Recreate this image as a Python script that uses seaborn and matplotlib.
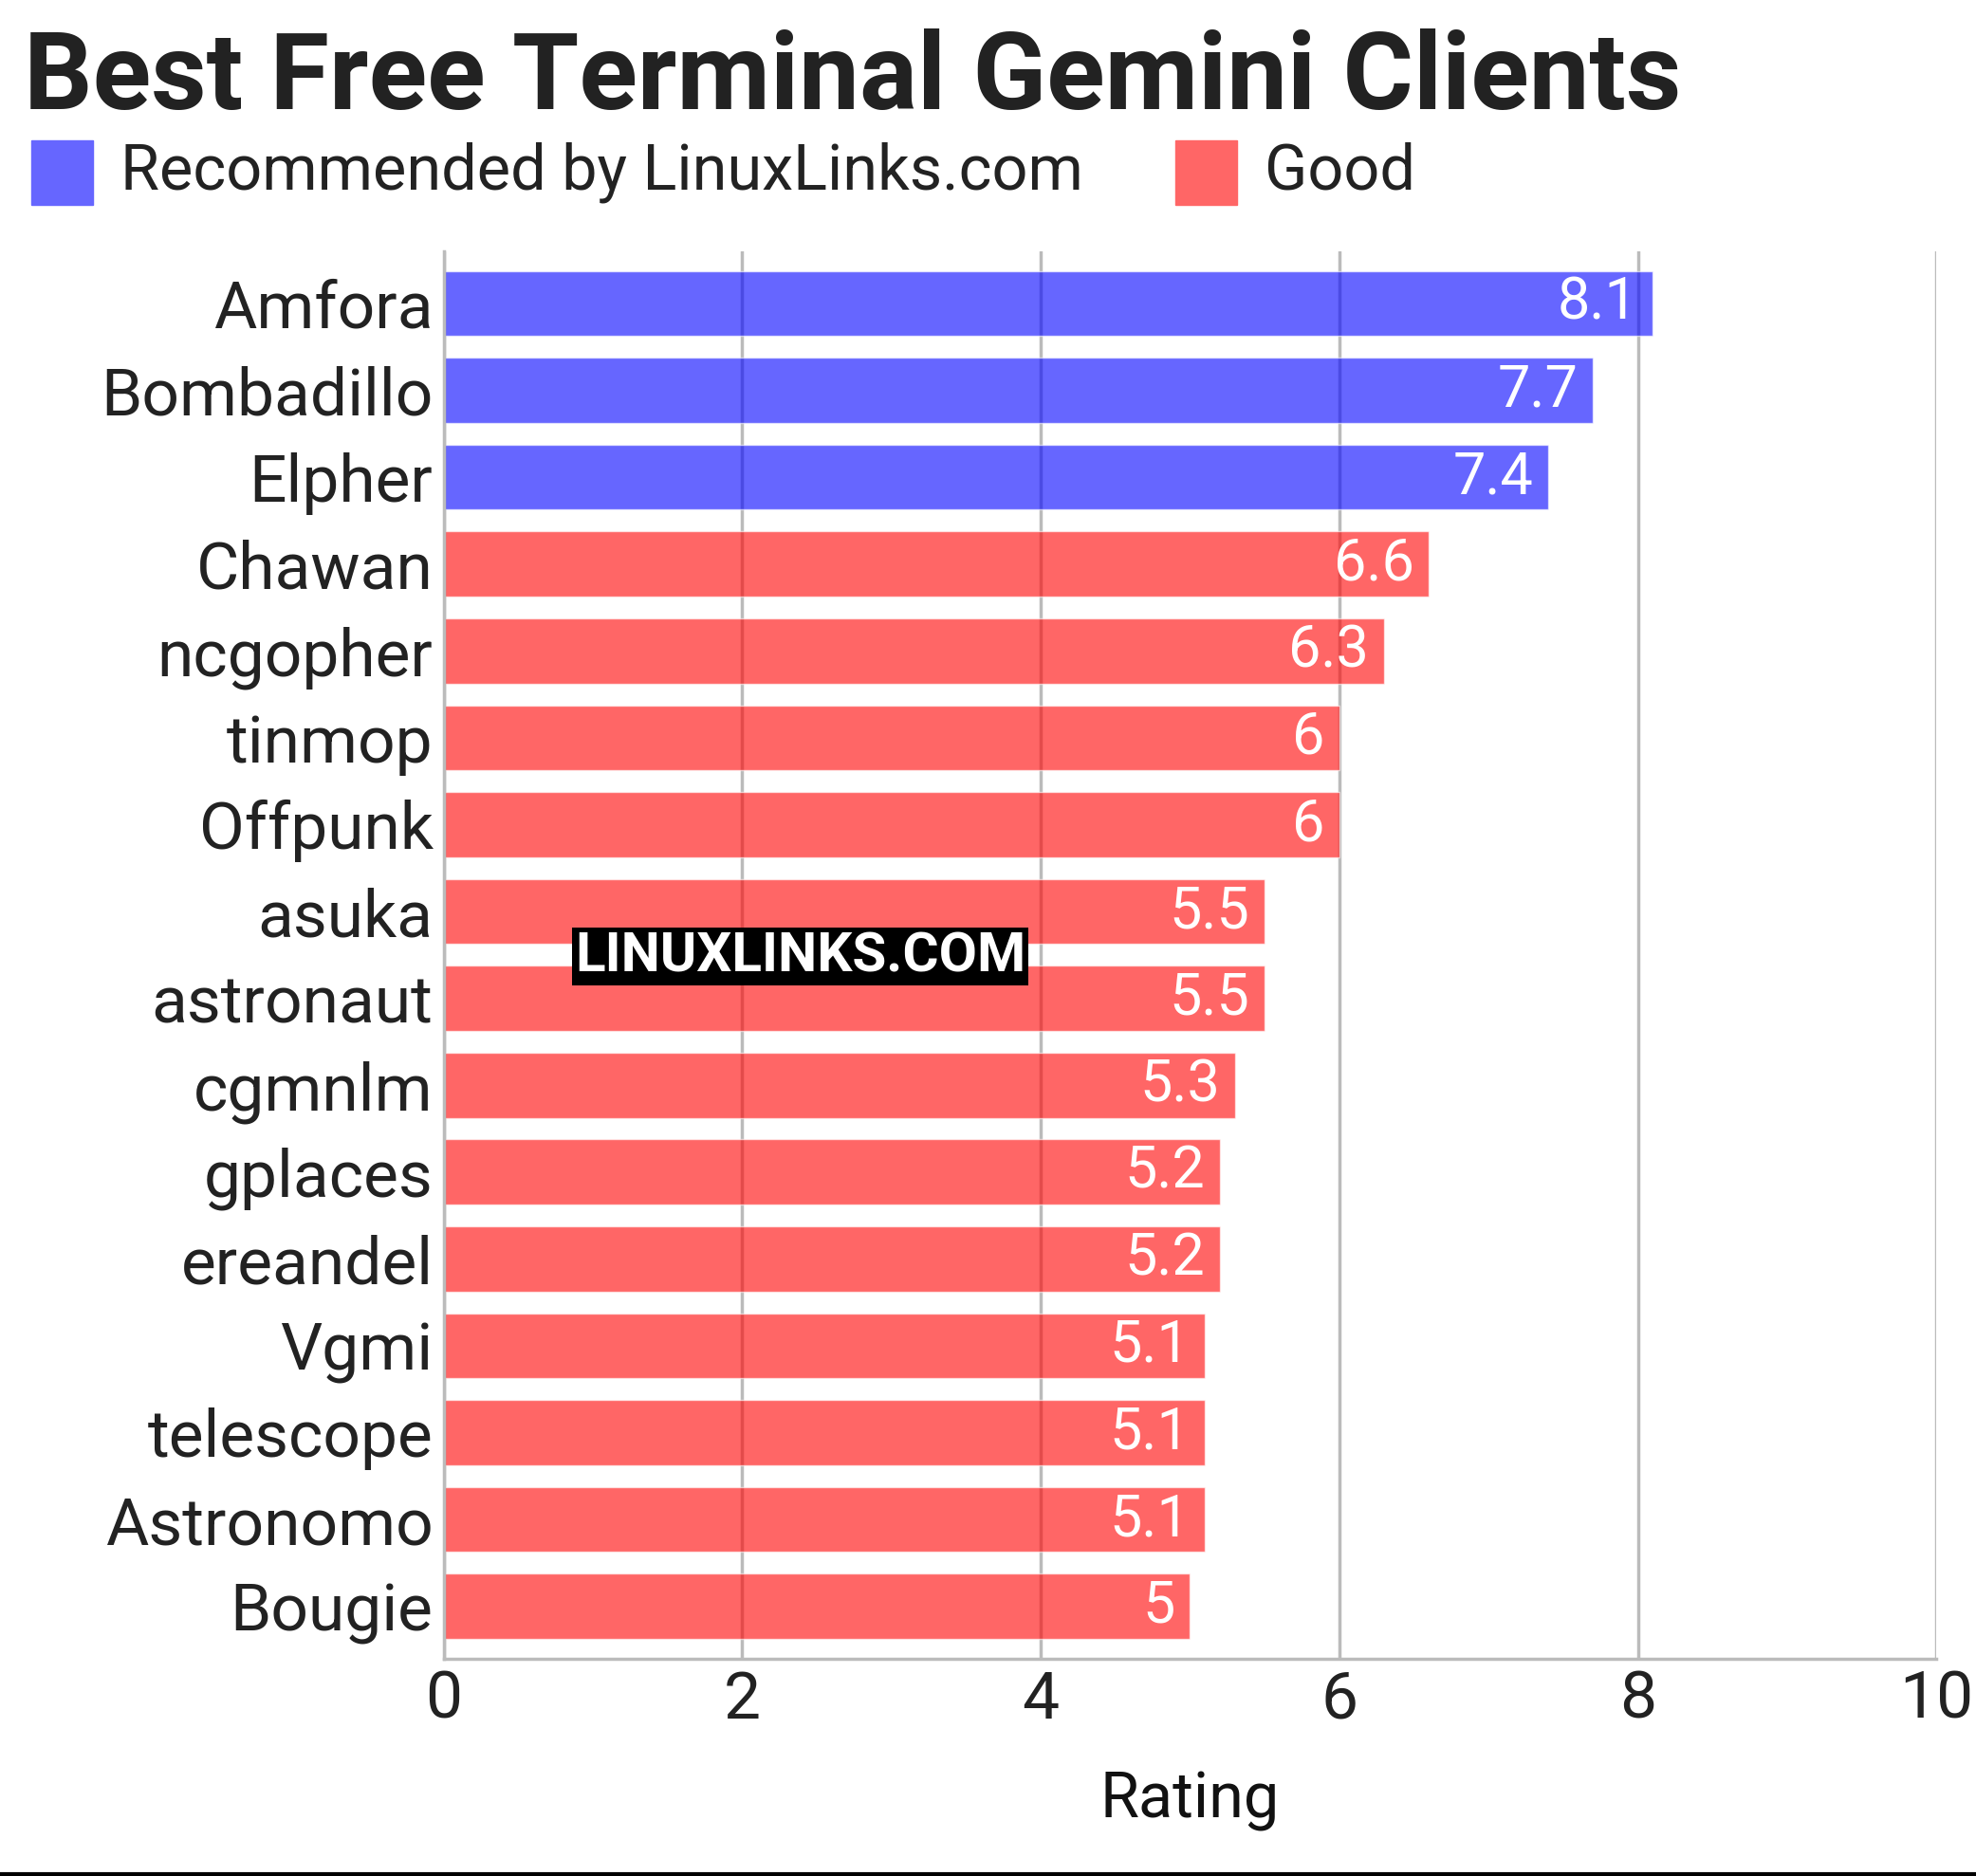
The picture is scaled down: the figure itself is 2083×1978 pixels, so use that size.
import matplotlib
matplotlib.use("Agg")
import matplotlib.pyplot as plt
import seaborn as sns
import pandas as pd

names = ["Amfora","Bombadillo","Elpher","Chawan","ncgopher","tinmop","Offpunk","asuka",
         "astronaut","cgmnlm","gplaces","ereandel","Vgmi","telescope","Astronomo","Bougie"]
ratings = [8.1,7.7,7.4,6.6,6.3,6.0,6.0,5.5,5.5,5.3,5.2,5.2,5.1,5.1,5.1,5.0]
groups = ["Recommended by LinuxLinks.com"]*3 + ["Good"]*13
labels = ["8.1","7.7","7.4","6.6","6.3","6","6","5.5","5.5","5.3","5.2","5.2","5.1","5.1","5.1","5"]
palette = {"Recommended by LinuxLinks.com": "#0000ff", "Good": "#ff0000"}

df = pd.DataFrame({"name": names, "rating": ratings, "group": groups})

sns.set_theme(style="white")
plt.rcParams['font.family'] = ['Roboto', 'DejaVu Sans']

fig = plt.figure(figsize=(20.83, 19.78), dpi=100)
ax = fig.add_axes([0.2245, 0.116, 0.7555, 0.75])
ax.set_axisbelow(True)
ax.grid(axis="x", color="#bbbbbb", linewidth=2.5)
sns.barplot(data=df, x="rating", y="name", hue="group", palette=palette, dodge=False,
            width=0.75, alpha=0.6, saturation=1, ax=ax, legend=False)
for i, (r, l) in enumerate(zip(ratings, labels)):
    ax.text(r - 0.1, i, l, ha="right", va="center", color="white", fontsize=44)
ax.set_xlim(0, 10)
ax.set_ylim(15.6, -0.6)
ax.set_xticks([0, 2, 4, 6, 8, 10])
ax.tick_params(axis="both", labelsize=50, colors="#222222", length=0, pad=8)
ax.set_ylabel("")
ax.set_xlabel("Rating", fontsize=48, color="#111111", labelpad=30)
for s in ["top", "right"]:
    ax.spines[s].set_visible(False)
for s in ["left", "bottom"]:
    ax.spines[s].set_color("#bbbbbb")
    ax.spines[s].set_linewidth(2.5)

fig.text(0.012, 0.985, "Best Free Terminal Gemini Clients", fontsize=82, fontweight="bold",
         color="#222222", va="top")
from matplotlib.patches import Rectangle
for x0, lab, c in [(0.016, "Recommended by LinuxLinks.com", "#6666ff"), (0.595, "Good", "#ff6666")]:
    fig.patches.append(Rectangle((x0, 0.891), 0.031, 0.034, transform=fig.transFigure,
                                 color=c, figure=fig))
    fig.text(x0 + 0.045, 0.908, lab, fontsize=48, color="#222222", va="center")
fig.text(0.405, 0.49, "LINUXLINKS.COM", fontsize=42, fontweight="bold", color="white",
         ha="center", va="center", bbox=dict(facecolor="black", edgecolor="none", pad=2))
fig.add_artist(plt.Line2D([0, 1], [0.001, 0.001], color="black", linewidth=3,
                          transform=fig.transFigure))
fig.savefig("out.png", dpi=100)
